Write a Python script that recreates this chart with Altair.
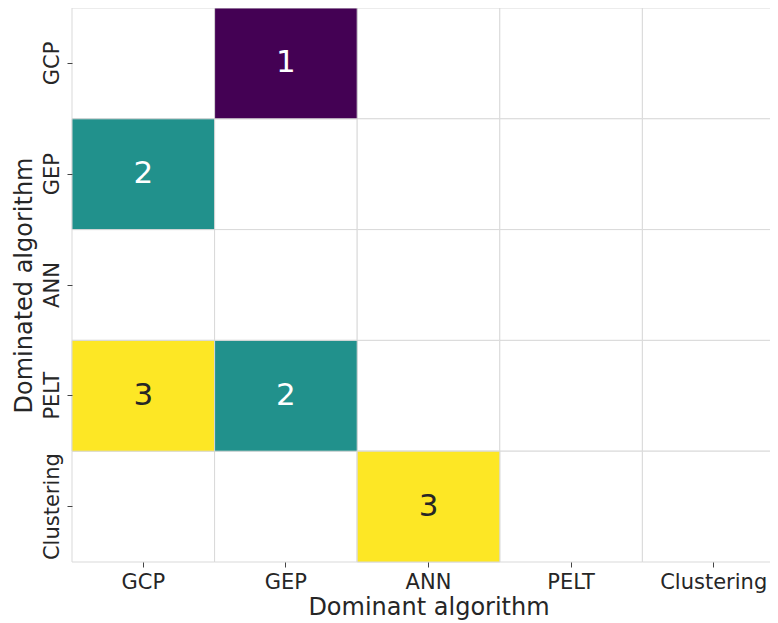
import altair as alt
import pandas as pd

algorithms = ["GCP", "GEP", "ANN", "PELT", "Clustering"]
dominant = ["GEP", "GCP", "GCP", "GEP", "ANN"]
dominated = ["GCP", "GEP", "PELT", "PELT", "Clustering"]
counts = [1, 2, 3, 2, 3]

grid = pd.DataFrame([(x, y) for y in algorithms for x in algorithms],
                    columns=["Dominant", "Dominated"])
df = pd.DataFrame({"Dominant": dominant, "Dominated": dominated, "count": counts})

FONT = "DejaVu Sans"
W, H = 713, 554
xenc = alt.X("Dominant:N", sort=algorithms, title="Dominant algorithm",
             scale=alt.Scale(paddingInner=0, paddingOuter=0),
             axis=alt.Axis(labelAngle=0, labelFontSize=21, titleFontSize=24,
                           labelColor="#262626", titleColor="#262626",
                           tickColor="#444444", tickSize=5, tickWidth=1,
                           labelPadding=21, labelBaseline="alphabetic",
                           titleX=W / 2, titleY=52.7, titleBaseline="alphabetic",
                           titleAlign="center",
                           domain=False, grid=False,
                           labelFont=FONT, titleFont=FONT, titleFontWeight="normal"))
yenc = alt.Y("Dominated:N", sort=algorithms, title="Dominated algorithm",
             scale=alt.Scale(paddingInner=0, paddingOuter=0),
             axis=alt.Axis(labelAngle=-90, labelAlign="center", labelBaseline="alphabetic",
                           labelFontSize=21, titleFontSize=24,
                           labelColor="#262626", titleColor="#262626",
                           tickColor="#444444", tickSize=5, tickWidth=1,
                           labelPadding=9,
                           titleAngle=-90, titleX=-40.5, titleY=H / 2,
                           titleBaseline="alphabetic", titleAlign="center",
                           domain=False, grid=False,
                           labelFont=FONT, titleFont=FONT, titleFontWeight="normal"))

base_cells = alt.Chart(grid).mark_rect(fill="white", stroke="#d9d9d9", strokeWidth=1).encode(
    x=xenc, y=yenc)

filled = alt.Chart(df).mark_rect(stroke="#d9d9d9", strokeWidth=1).encode(
    x=alt.X("Dominant:N", sort=algorithms),
    y=alt.Y("Dominated:N", sort=algorithms),
    color=alt.Color("count:Q", legend=None,
                    scale=alt.Scale(domain=[1, 2, 3],
                                    range=["#440154", "#21918c", "#fde725"])))

labels = alt.Chart(df).mark_text(fontSize=31, font=FONT, baseline="middle").encode(
    x=alt.X("Dominant:N", sort=algorithms),
    y=alt.Y("Dominated:N", sort=algorithms),
    text=alt.Text("count:Q"),
    color=alt.condition(alt.datum["count"] >= 2.5, alt.value("#262626"), alt.value("white")))

chart = alt.layer(base_cells, filled, labels).properties(
    width=W, height=H,
    autosize=alt.AutoSizeParams(type="none"),
    padding={"left": 64, "top": 0, "right": -15, "bottom": 60},
).configure_view(stroke=None)

chart.save("out.html", embed_options={"renderer": "svg", "actions": False})
